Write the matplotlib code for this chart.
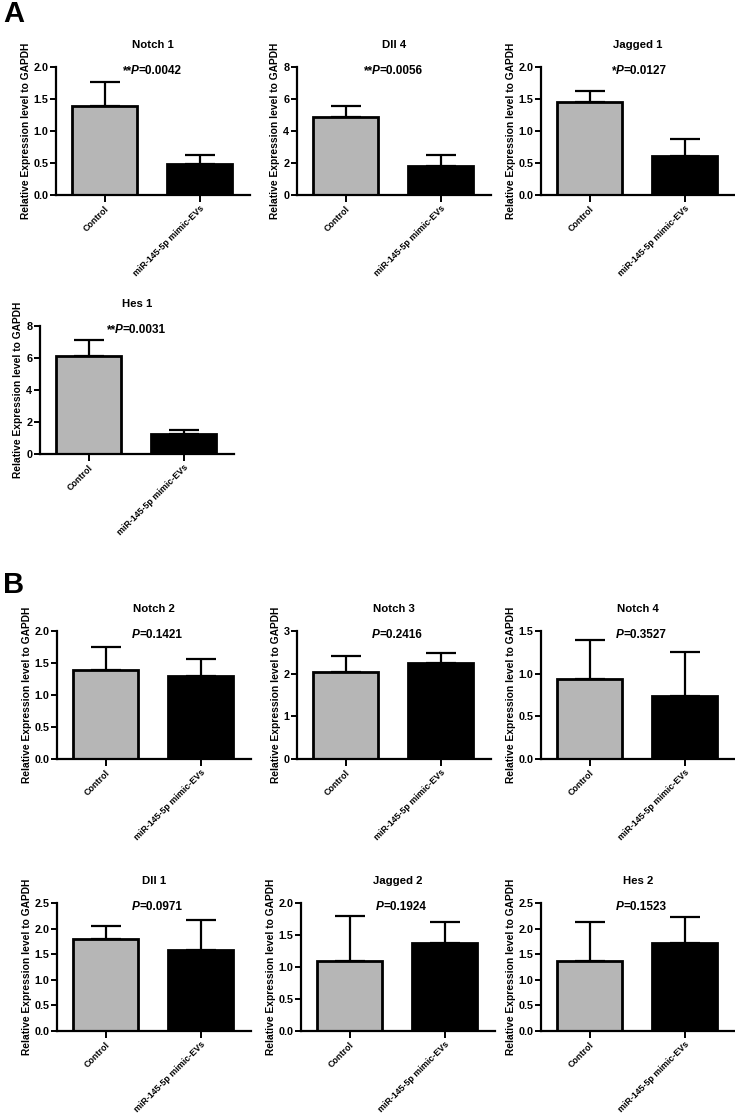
import matplotlib
matplotlib.use('Agg')
import matplotlib.pyplot as plt

plt.rcParams['font.family'] = ['Liberation Sans', 'DejaVu Sans']
plt.rcParams['font.weight'] = 'bold'

groups = ['Control', 'miR-145-5p mimic-EVs']
genes = ['Notch 1', 'Dll 4', 'Jagged 1', 'Hes 1',
         'Notch 2', 'Notch 3', 'Notch 4', 'Dll 1', 'Jagged 2', 'Hes 2']

# bar heights (mean) for Control / miR-145-5p mimic-EVs
control_mean = [1.39, 4.85, 1.46, 6.14, 1.39, 2.04, 0.935, 1.80, 1.10, 1.37]
mimic_mean = [0.48, 1.83, 0.605, 1.26, 1.30, 2.25, 0.736, 1.58, 1.375, 1.71]
# upper error bar ends
control_top = [1.76, 5.54, 1.62, 7.15, 1.75, 2.42, 1.40, 2.06, 1.79, 2.12]
mimic_top = [0.62, 2.52, 0.87, 1.48, 1.56, 2.49, 1.25, 2.17, 1.71, 2.23]

stars = ['**', '**', '*', '**', '', '', '', '', '', '']
p_values = ['0.0042', '0.0056', '0.0127', '0.0031',
            '0.1421', '0.2416', '0.3527', '0.0971', '0.1924', '0.1523']
y_max = [2.0, 8, 2.0, 8, 2.0, 3, 1.5, 2.5, 2.0, 2.5]
y_step = [0.5, 2, 0.5, 2, 0.5, 1, 0.5, 0.5, 0.5, 0.5]

# panel placement in pixels: (left spine x, bottom y)
W, H = 735, 1115
places = [(56, 195), (297, 195), (541, 195), (40, 454),
          (57, 759), (297, 759), (541, 759), (57, 1031), (301, 1031), (541, 1031)]
ax_w, ax_h = 194, 128

fig = plt.figure(figsize=(W / 100, H / 100), dpi=100)

for i, gene in enumerate(genes):
    x0, yb = places[i]
    ax = fig.add_axes([x0 / W, 1 - yb / H, ax_w / W, ax_h / H])
    means = [control_mean[i], mimic_mean[i]]
    errs = [[0, 0], [control_top[i] - control_mean[i], mimic_top[i] - mimic_mean[i]]]
    ax.bar([0, 1], means, width=0.68, color=['#b6b6b6', 'black'],
           edgecolor='black', linewidth=2.0, zorder=2)
    ax.errorbar([0, 1], means, yerr=errs, fmt='none', ecolor='black',
                elinewidth=1.6, capsize=11, capthick=1.6, zorder=1)
    ax.set_xlim(-0.51, 1.53)
    ax.set_ylim(0, y_max[i])
    n = int(round(y_max[i] / y_step[i]))
    ticks = [k * y_step[i] for k in range(n + 1)]
    ax.set_yticks(ticks)
    if y_step[i] < 1:
        ax.set_yticklabels(['%.1f' % t for t in ticks])
    else:
        ax.set_yticklabels(['%d' % t for t in ticks])
    ax.set_xticks([0, 1])
    ax.set_xticklabels(groups, rotation=45, ha='right', rotation_mode='anchor',
                       fontsize=6.4, fontweight='bold')
    ax.tick_params(axis='y', width=1.4, length=4, labelsize=7.8, pad=1.5)
    ax.tick_params(axis='x', width=1.4, length=5, pad=1.5)
    for s in ['top', 'right']:
        ax.spines[s].set_visible(False)
    for s in ['left', 'bottom']:
        ax.spines[s].set_linewidth(1.6)
    ax.set_ylabel('Relative Expression level to GAPDH', fontsize=7.4,
                  fontweight='bold', labelpad=2)
    ax.set_title(gene, fontsize=8.2, fontweight='bold', pad=14)
    # "**P=0.0042" with italic P
    ptxt = ax.text(0.385, 0.965, 'P', transform=ax.transAxes, ha='left', va='center',
                   fontsize=8.5, fontweight='bold', style='italic')
    ax.annotate(stars[i], xy=(0.15, 0.5), xycoords=ptxt, ha='right', va='center',
                fontsize=8.5, fontweight='bold')
    ax.annotate('=' + p_values[i], xy=(0.95, 0.5), xycoords=ptxt, ha='left', va='center',
                fontsize=8.5, fontweight='bold')

fig.text(3 / W, 1 - 0 / H, 'A', fontsize=21, fontweight='bold', va='top', ha='left')
fig.text(3 / W, 1 - 571 / H, 'B', fontsize=21, fontweight='bold', va='top', ha='left')

fig.savefig('out.png', dpi=100)
